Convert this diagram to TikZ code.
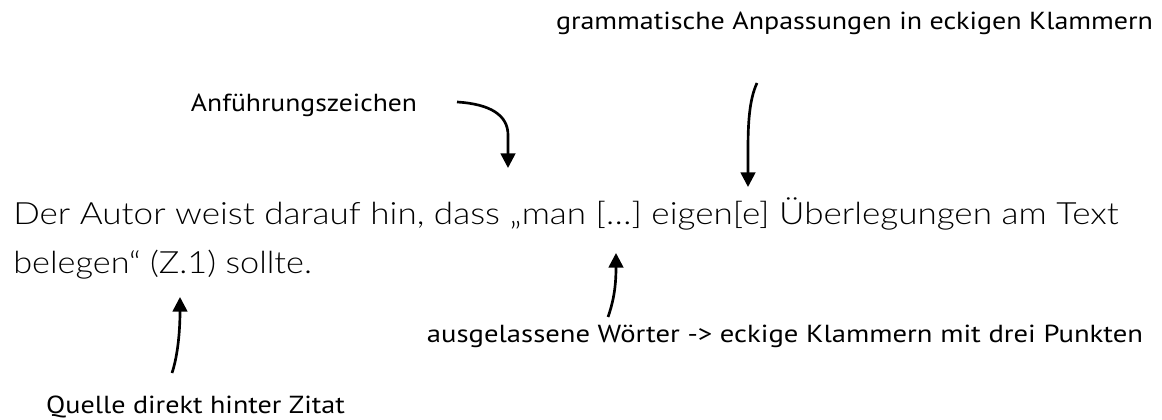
\documentclass[tikz,border=0pt]{standalone}
\usepackage{fontspec}
\setmainfont{Lato}[UprightFont=* Light]
\newfontfamily\handfont{PT Sans}
\usetikzlibrary{arrows.meta}

\begin{document}
\begin{tikzpicture}[x=0.75pt, y=-0.75pt,
  quote text/.style={anchor=base west, inner sep=0pt, font=\fontsize{23}{28}\selectfont},
  note text/.style={anchor=base, inner sep=0pt, font=\handfont\fontsize{18.5}{22}\selectfont},
  hand arrow/.style={-{Triangle[width=11pt,length=11pt]}, line width=2pt}]
  \useasboundingbox (0,0) rectangle (1162,420);

  % quoted sentence
  \node[quote text] (line1) at (13,224) {\resizebox{828.75pt}{\height}{Der Autor weist darauf hin, dass „man […] eigen[e] Überlegungen am Text}};
  \node[quote text] (line2) at (13,273) {\resizebox{224pt}{\height}{belegen“ (Z.1) sollte.}};

  % notes
  \node[note text] (quotes) at (304,112) {\resizebox{169.5pt}{\height}{Anführungszeichen}};
  \node[note text] (grammar) at (854.5,30) {\resizebox{447.75pt}{\height}{grammatische Anpassungen in eckigen Klammern}};
  \node[note text] (omitted) at (785,342) {\resizebox{537pt}{\height}{ausgelassene Wörter -> eckige Klammern mit drei Punkten}};
  \node[note text] (source) at (195.5,413) {\resizebox{224pt}{\height}{Quelle direkt hinter Zitat}};

  % arrow ends
  \coordinate (quotestail) at (457,102);
  \coordinate (quotestip) at (508,168);
  \coordinate (grammartail) at (757,83);
  \coordinate (grammartip) at (748,187);
  \coordinate (omittedtail) at (608,317);
  \coordinate (omittedtip) at (616,253);
  \coordinate (sourcetail) at (172,373);
  \coordinate (sourcetip) at (180,297);

  \draw[hand arrow] (quotestail) .. controls (490,104) and (508,115) .. (508,135) -- (quotestip);
  \draw[hand arrow] (grammartail) .. controls (749,100) and (748,125) .. (748,150) -- (grammartip);
  \draw[hand arrow] (omittedtail) .. controls (614,300) and (616,285) .. (omittedtip);
  \draw[hand arrow] (sourcetail) .. controls (178,355) and (180,330) .. (sourcetip);
\end{tikzpicture}
\end{document}
